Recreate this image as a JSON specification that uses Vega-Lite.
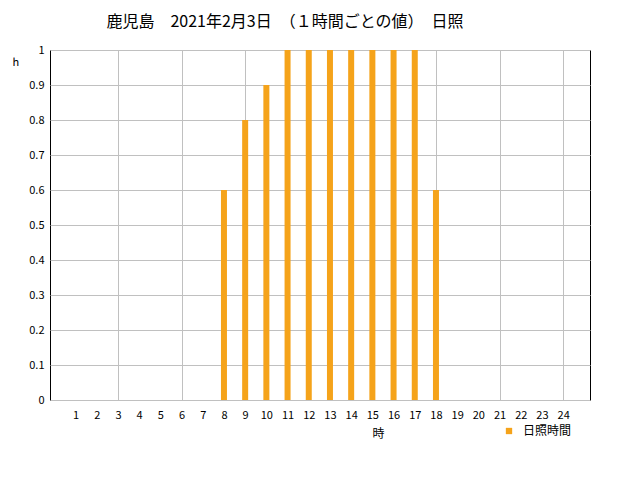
{
  "$schema": "https://vega.github.io/schema/vega-lite/v6.json",
  "width": 540,
  "height": 350,
  "autosize": "none",
  "padding": {"left": 50, "top": 50, "right": 50, "bottom": 80},
  "background": "white",
  "title": {
    "text": "鹿児島　2021年2月3日　（１時間ごとの値）　日照",
    "anchor": "middle",
    "dx": -35,
    "offset": 14,
    "font": "Noto Sans CJK JP",
    "fontSize": 16,
    "fontWeight": "normal",
    "color": "black"
  },
  "config": {
    "view": {"stroke": "black", "strokeWidth": 1},
    "font": "Noto Sans CJK JP"
  },
  "data": {
    "values": [
      {"hour": 1, "value": 0, "series": "日照時間"},
      {"hour": 2, "value": 0, "series": "日照時間"},
      {"hour": 3, "value": 0, "series": "日照時間"},
      {"hour": 4, "value": 0, "series": "日照時間"},
      {"hour": 5, "value": 0, "series": "日照時間"},
      {"hour": 6, "value": 0, "series": "日照時間"},
      {"hour": 7, "value": 0, "series": "日照時間"},
      {"hour": 8, "value": 0.6, "series": "日照時間"},
      {"hour": 9, "value": 0.8, "series": "日照時間"},
      {"hour": 10, "value": 0.9, "series": "日照時間"},
      {"hour": 11, "value": 1, "series": "日照時間"},
      {"hour": 12, "value": 1, "series": "日照時間"},
      {"hour": 13, "value": 1, "series": "日照時間"},
      {"hour": 14, "value": 1, "series": "日照時間"},
      {"hour": 15, "value": 1, "series": "日照時間"},
      {"hour": 16, "value": 1, "series": "日照時間"},
      {"hour": 17, "value": 1, "series": "日照時間"},
      {"hour": 18, "value": 0.6, "series": "日照時間"},
      {"hour": 19, "value": 0, "series": "日照時間"},
      {"hour": 20, "value": 0, "series": "日照時間"},
      {"hour": 21, "value": 0, "series": "日照時間"},
      {"hour": 22, "value": 0, "series": "日照時間"},
      {"hour": 23, "value": 0, "series": "日照時間"},
      {"hour": 24, "value": 0, "series": "日照時間"}
    ]
  },
  "mark": {"type": "bar", "size": 6},
  "encoding": {
    "x": {
      "field": "hour",
      "type": "quantitative",
      "scale": {"domain": [0.03, 25.03], "nice": false, "zero": false},
      "axis": {
        "values": [1,2,3,4,5,6,7,8,9,10,11,12,13,14,15,16,17,18,19,20,21,22,23,24],
        "title": "時",
        "titleX": 328,
        "titleY": 33,
        "titleAlign": "center",
        "titleBaseline": "middle",
        "titleFontSize": 12,
        "titleFontWeight": "normal",
        "titleColor": "black",
        "labelFontSize": 11,
        "labelColor": "black",
        "labelPadding": 9,
        "labelFont": "Noto Sans CJK JP",
        "ticks": false,
        "domain": false,
        "grid": true,
        "gridColor": "#c0c0c0",
        "gridOpacity": {"condition": {"test": "datum.value % 3 === 0", "value": 1}, "value": 0}
      }
    },
    "y": {
      "field": "value",
      "type": "quantitative",
      "scale": {"domain": [0, 1], "nice": false},
      "axis": {
        "values": [0, 0.1, 0.2, 0.3, 0.4, 0.5, 0.6, 0.7, 0.8, 0.9, 1],
        "format": "~g",
        "title": "h",
        "titleAngle": 0,
        "titleX": -38,
        "titleY": 12,
        "titleAlign": "left",
        "titleBaseline": "middle",
        "titleFontSize": 11,
        "titleFontWeight": "normal",
        "titleColor": "black",
        "labelFontSize": 11,
        "labelColor": "black",
        "labelPadding": 6,
        "labelFont": "Noto Sans CJK JP",
        "ticks": false,
        "domain": false,
        "grid": true,
        "gridColor": "#c0c0c0"
      }
    },
    "color": {
      "field": "series",
      "type": "nominal",
      "scale": {"range": ["#f5a31a"]},
      "legend": {
        "title": null,
        "orient": "none",
        "legendX": 453,
        "legendY": 375,
        "symbolType": "square",
        "symbolSize": 40,
        "labelFontSize": 12,
        "labelColor": "black",
        "labelFont": "Noto Sans CJK JP",
        "labelOffset": 8
      }
    }
  }
}
